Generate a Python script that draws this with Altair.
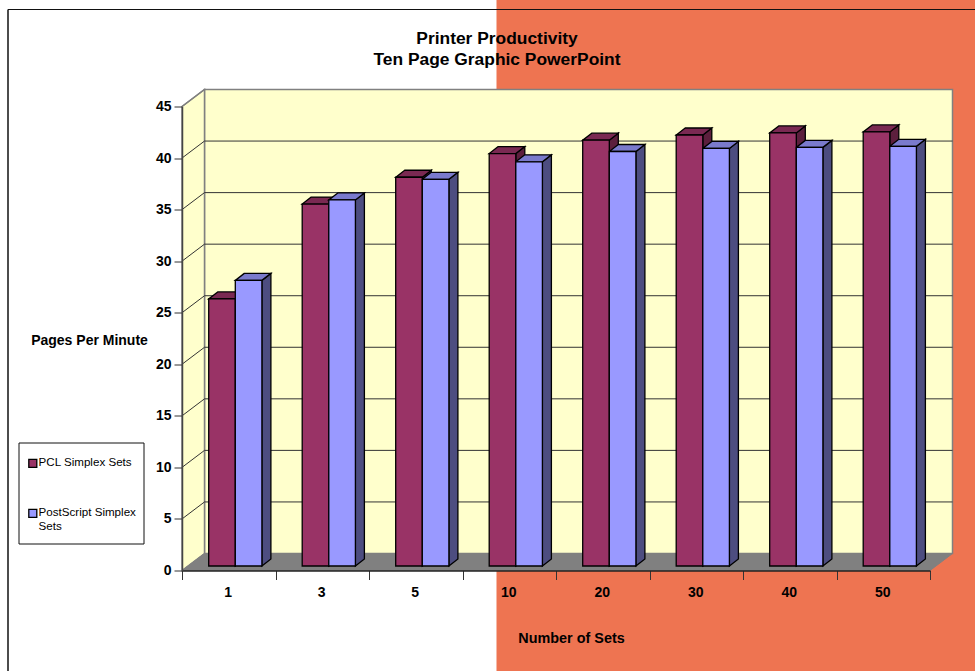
import json
import altair as alt
import pandas as pd

# Chart values
categories = ["1", "3", "5", "10", "20", "30", "40", "50"]
pcl_simplex = [25.9, 35.1, 37.7, 40.0, 41.3, 41.8, 42.0, 42.1]
postscript_simplex = [27.7, 35.5, 37.5, 39.2, 40.2, 40.5, 40.6, 40.7]
y_ticks = [0, 5, 10, 15, 20, 25, 30, 35, 40, 45]
series_names = ["PCL Simplex Sets", "PostScript Simplex Sets"]

# Plot box in pixels, used to convert the 3D depth into data units
PLOT_W, PLOT_H = 748, 464
N = len(categories)
X_UNIT = PLOT_W / N
Y_UNIT = PLOT_H / 45

WALL_DX, WALL_DY = 22.5 / X_UNIT, 17 / Y_UNIT      # depth of the whole chart box
BAR_DX, BAR_DY = 9 / X_UNIT, 7 / Y_UNIT            # depth of a single bar
BAR_W = 26.6 / X_UNIT
BAR_START = 26.7 / X_UNIT
BAR_BASE = 4.5 / Y_UNIT

FONT = "Liberation Sans"
SERIES_COLORS = ["#993366", "#9999FF"]
TOP_COLORS = ["#7A2952", "#7A7ACC"]
SIDE_COLORS = ["#5C1F3D", "#4D4D80"]


def vertical_face(rows, face, x0, x1, lo0, hi0, lo1, hi1, color):
    rows.append(dict(face=face, x=x0, lo=lo0, hi=hi0, color=color))
    rows.append(dict(face=face, x=x1, lo=lo1, hi=hi1, color=color))


def horizontal_face(rows, face, y0, y1, l0, r0, l1, r1, color):
    rows.append(dict(face=face, y=y0, left=l0, right=r0, color=color))
    rows.append(dict(face=face, y=y1, left=l1, right=r1, color=color))


front_rows, side_rows, top_rows = [], [], []
for i in range(N):
    for s, values in enumerate([pcl_simplex, postscript_simplex]):
        a = i + BAR_START + s * BAR_W
        b = a + BAR_W
        top = BAR_BASE + values[i]
        front_rows.append(dict(series=series_names[s], x=a, x2=b, y=BAR_BASE, y2=top))
        vertical_face(side_rows, f"s{i}-{s}", b, b + BAR_DX, BAR_BASE, top,
                      BAR_BASE + BAR_DY, top + BAR_DY, SIDE_COLORS[s])
        horizontal_face(top_rows, f"t{i}-{s}", top, top + BAR_DY, a, b,
                        a + BAR_DX, b + BAR_DX, TOP_COLORS[s])

x_q = alt.Scale(domain=[0, N], nice=False, zero=False)
y_q = alt.Scale(domain=[0, 45], nice=False, zero=False)

# Every layer carries the same axis definition so they merge into one axis
label_expr = f"{json.dumps(categories)}[floor(datum.value)]"
half_steps = [k / 2 for k in range(0, 2 * N + 1)]
x_axis = alt.Axis(
    values=half_steps,
    title="Number of Sets",
    titleFont=FONT, titleFontSize=14.4, titleFontWeight="bold", titleColor="#000000",
    titleX=389, titleY=68, titleBaseline="middle",
    labelFont=FONT, labelFontSize=14, labelFontWeight="bold", labelColor="#000000",
    labelExpr=f"datum.value % 1 == 0 ? '' : {label_expr}",
    labelPadding=15, labelOverlap=False, labelFlush=False, labelOffset=-1,
    tickSize={"condition": {"test": "datum.value % 1 == 0", "value": 9}, "value": 0},
    tickColor="#333333", tickWidth=1,
    domainColor="#222222", domainWidth=1.5,
    grid=False, zindex=1,
)
y_axis = alt.Axis(
    values=y_ticks,
    title="Pages Per Minute",
    titleAngle=0, titleAlign="center", titleBaseline="middle",
    titleFont=FONT, titleFontSize=14, titleFontWeight="bold", titleColor="#000000",
    titleX=-93, titleY=233.5,
    labelFont=FONT, labelFontSize=14, labelFontWeight="bold", labelColor="#000000",
    labelPadding=3, tickSize=8, tickColor="#333333", tickWidth=1,
    domainColor="#444444", domainWidth=1.5,
    grid=False, zindex=1,
)


def area_vertical(rows, **mark):
    return alt.Chart(pd.DataFrame(rows)).mark_area(**mark).encode(
        x=alt.X("x:Q", scale=x_q, axis=x_axis),
        y=alt.Y("lo:Q", scale=y_q, axis=y_axis, stack=None),
        y2="hi:Q",
        detail="face:N",
        fill=alt.Fill("color:N", scale=None),
    )


def area_horizontal(rows, **mark):
    return alt.Chart(pd.DataFrame(rows)).mark_area(orient="horizontal", **mark).encode(
        y=alt.Y("y:Q", scale=y_q, axis=y_axis),
        x=alt.X("left:Q", scale=x_q, axis=x_axis, stack=None),
        x2="right:Q",
        detail="face:N",
        fill=alt.Fill("color:N", scale=None),
    )


# Page furniture: coloured panel, outer frame and legend box
orange_panel = alt.Chart(pd.DataFrame({"a": [0]})).mark_rect(color="#EE7451").encode(
    x=alt.value(314.5), x2=alt.value(793), y=alt.value(-106.5), y2=alt.value(564.5)
)
frame_top = alt.Chart(pd.DataFrame({"a": [0]})).mark_rule(color="#111111", strokeWidth=1).encode(
    x=alt.value(-174), x2=alt.value(793), y=alt.value(-97)
)
frame_left = alt.Chart(pd.DataFrame({"a": [0]})).mark_rule(color="#111111", strokeWidth=1.5).encode(
    x=alt.value(-174), y=alt.value(-97), y2=alt.value(564.5)
)
legend_box = alt.Chart(pd.DataFrame({"a": [0]})).mark_rect(
    fill="white", stroke="#111111", strokeWidth=1
).encode(x=alt.value(-163), x2=alt.value(-38), y=alt.value(336.5), y2=alt.value(437.5))

# Chart box: back wall, side wall and floor
WALL = "#FFFFCC"
EDGE = "#808080"
back_wall = alt.Chart(pd.DataFrame([dict(x=WALL_DX, x2=N + WALL_DX, y=WALL_DY, y2=45 + WALL_DY)])).mark_rect(
    fill=WALL, stroke=EDGE, strokeWidth=1.5
).encode(
    x=alt.X("x:Q", scale=x_q, axis=x_axis), x2="x2:Q",
    y=alt.Y("y:Q", scale=y_q, axis=y_axis), y2="y2:Q",
)
side_rows_wall = []
vertical_face(side_rows_wall, "wall", 0, WALL_DX, 0, 45, WALL_DY, 45 + WALL_DY, WALL)
side_wall = area_vertical(side_rows_wall, stroke=EDGE, strokeWidth=1.5)
floor_rows = []
horizontal_face(floor_rows, "floor", 0, WALL_DY, 0, N, WALL_DX, N + WALL_DX, "#808080")
floor = area_horizontal(floor_rows, stroke=EDGE, strokeWidth=1)

# Gridlines run along the side wall and across the back wall
grid_rows = []
for v in y_ticks[1:-1]:
    grid_rows.append(dict(line=f"g{v}", x=0, y=v))
    grid_rows.append(dict(line=f"g{v}", x=WALL_DX, y=v + WALL_DY))
    grid_rows.append(dict(line=f"g{v}", x=N + WALL_DX, y=v + WALL_DY))
grid = alt.Chart(pd.DataFrame(grid_rows)).mark_line(color="#333333", strokeWidth=1).encode(
    x=alt.X("x:Q", scale=x_q, axis=x_axis),
    y=alt.Y("y:Q", scale=y_q, axis=y_axis),
    detail="line:N",
)
slant_rows = [
    dict(line="top", x=0, y=45), dict(line="top", x=WALL_DX, y=45 + WALL_DY),
]
top_slant = alt.Chart(pd.DataFrame(slant_rows)).mark_line(color=EDGE, strokeWidth=1.5).encode(
    x=alt.X("x:Q", scale=x_q, axis=x_axis),
    y=alt.Y("y:Q", scale=y_q, axis=y_axis),
    detail="line:N",
)

# Bar faces: sides first, then tops, then fronts so nearer faces cover farther ones
bar_sides = area_vertical(side_rows, stroke="#000000", strokeWidth=1.3)
bar_tops = area_horizontal(top_rows, stroke="#000000", strokeWidth=1.3)

bar_fronts = alt.Chart(pd.DataFrame(front_rows)).mark_rect(stroke="#000000", strokeWidth=1.3).encode(
    x=alt.X("x:Q", scale=x_q, axis=x_axis),
    x2="x2:Q",
    y=alt.Y("y:Q", scale=y_q, axis=y_axis),
    y2="y2:Q",
    fill=alt.Fill(
        "series:N",
        scale=alt.Scale(domain=series_names, range=SERIES_COLORS),
        legend=alt.Legend(
            title=None,
            orient="none", legendX=-155, legendY=351,
            padding=0, symbolType="square", symbolSize=64,
            symbolStrokeColor="#000000", symbolStrokeWidth=1.3,
            labelFont=FONT, labelFontSize=11.6, labelColor="#000000",
            labelOffset=0, labelLimit=200, rowPadding=36,
            labelExpr="datum.label == 'PostScript Simplex Sets' ? ['PostScript Simplex', 'Sets'] : datum.label",
        ),
    ),
)

chart = alt.layer(
    orange_panel, frame_top, frame_left, legend_box,
    back_wall, side_wall, top_slant, grid, floor,
    bar_sides, bar_tops, bar_fronts,
).resolve_scale(fill="independent").properties(
    width=PLOT_W,
    height=PLOT_H,
    padding={"left": 182, "top": 106.5, "right": 45, "bottom": 100.5},
    autosize=alt.AutoSizeParams(type="none"),
    background="white",
    title=alt.TitleParams(
        text=["Printer Productivity", "Ten Page Graphic PowerPoint"],
        font=FONT, fontSize=17.4, fontWeight="bold", color="#000000",
        anchor="middle", dx=-59, offset=0, dy=68, lineHeight=21,
    ),
).configure_view(stroke=None)

chart.save("out.html", embed_options={"renderer": "svg", "actions": False})
